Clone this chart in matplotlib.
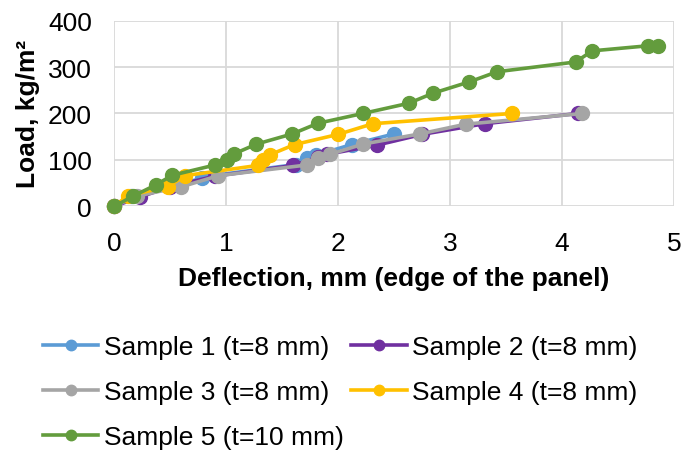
import matplotlib
matplotlib.use('Agg')
import matplotlib.pyplot as plt

plt.rcParams['font.family'] = ['Liberation Sans', 'DejaVu Sans']

# deflection (mm) / load (kg/m2)
s1_x = [0, 0.15, 0.50, 0.78, 0.90, 1.62, 1.72, 1.80, 2.12, 2.50]
s1_y = [0, 22, 43, 60, 67, 90, 104, 110, 133, 156]

s2_x = [0, 0.23, 0.50, 0.90, 1.60, 1.82, 1.90, 2.35, 2.75, 3.31, 4.14]
s2_y = [0, 20, 42, 65, 88, 106, 112, 132, 155, 178, 200]

s3_x = [0, 0.20, 0.60, 0.93, 1.72, 1.82, 1.93, 2.22, 2.73, 3.14, 4.18]
s3_y = [0, 22, 42, 66, 89, 103, 112, 134, 156, 177, 200]

s4_x = [0, 0.12, 0.48, 0.63, 1.28, 1.33, 1.39, 1.61, 2.00, 2.31, 3.55]
s4_y = [0, 23, 42, 66, 88, 100, 111, 133, 155, 178, 200]

s5_x = [0, 0.17, 0.37, 0.52, 0.90, 1.01, 1.07, 1.27, 1.59, 1.82, 2.22,
        2.63, 2.85, 3.17, 3.42, 4.12, 4.27, 4.77, 4.86]
s5_y = [0, 22, 46, 67, 89, 100, 113, 134, 156, 179, 200,
        222, 244, 268, 290, 311, 335, 346, 346]

labels = ['Sample 1 (t=8 mm)', 'Sample 2 (t=8 mm)', 'Sample 3 (t=8 mm)',
          'Sample 4 (t=8 mm)', 'Sample 5 (t=10 mm)']
colors = ['#5B9BD5', '#7030A0', '#A5A5A5', '#FFC000', '#639C3D']
series = [(s1_x, s1_y), (s2_x, s2_y), (s3_x, s3_y), (s4_x, s4_y), (s5_x, s5_y)]

fig = plt.figure(figsize=(6.81, 4.52), dpi=100)
ax = fig.add_axes([0.1678, 0.5414, 0.822, 0.4106])

lines = []
for (xs, ys), lab, c in zip(series, labels, colors):
    ln, = ax.plot(xs, ys, color=c, linewidth=2.6, marker='o', markersize=10,
                  label=lab, clip_on=False)
    lines.append(ln)

ax.set_xlim(0, 5)
ax.set_ylim(0, 400)
ax.set_xticks([0, 1, 2, 3, 4, 5])
ax.set_yticks([0, 100, 200, 300, 400])
ax.grid(True, color='#d9d9d9', linewidth=1.3)
ax.set_axisbelow(True)
for sp in ax.spines.values():
    sp.set_visible(False)
ax.tick_params(length=0, labelsize=19)
ax.tick_params(axis='x', pad=18)
ax.tick_params(axis='y', pad=16)

ax.set_xlabel('Deflection, mm (edge of the panel)', fontsize=19,
              fontweight='bold', labelpad=8)
ax.set_ylabel('Load, kg/m²', fontsize=19, fontweight='bold', labelpad=6)

# legend reads row by row in the original: 1 2 / 3 4 / 5
order = [0, 2, 4, 1, 3]
fig.legend([lines[i] for i in order], [labels[i] for i in order],
           loc='upper left', bbox_to_anchor=(43 / 681, 1 - 336 / 452),
           ncol=2, frameon=False, fontsize=19, markerscale=0.75,
           handlelength=2.1, handletextpad=0.2, columnspacing=0.3,
           labelspacing=0.8, borderpad=0, borderaxespad=0)

fig.savefig('out.png', dpi=100)
